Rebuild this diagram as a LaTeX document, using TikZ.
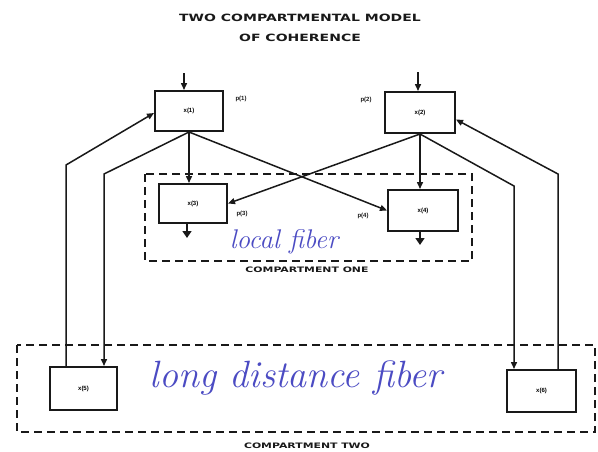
\documentclass[tikz,border=0pt]{standalone}
\usepackage{fontspec}
\setmainfont{Liberation Sans}
\newfontfamily\hand{Latin Modern Roman}
\newfontfamily\heavy{DejaVu Sans}
\usetikzlibrary{arrows.meta,calc}
\definecolor{ink}{RGB}{25,25,25}
\definecolor{pen}{RGB}{75,75,195}
\tikzset{
  box/.style={draw=ink, line width=2pt, inner sep=0pt, font=\fontsize{6}{7}\selectfont\bfseries},
  conn/.style={draw=ink, line width=1.5pt, -{Triangle[length=7pt,width=6pt]}},
  outarr/.style={draw=ink, line width=1.6pt, -{Triangle[length=7pt,width=9pt]}},
  comp/.style={draw=ink, line width=1.6pt, dash pattern=on 8pt off 5pt},
  heading/.style={font=\heavy\fontsize{10}{12}\selectfont\bfseries, text=ink, inner sep=0pt},
  smalllab/.style={font=\heavy\fontsize{7.5}{9}\selectfont\bfseries, text=ink, inner sep=0pt},
  plab/.style={font=\fontsize{6}{7}\selectfont\bfseries, text=ink, inner sep=0pt},
  handtext/.style={text=pen, inner sep=0pt}
}
\begin{document}
\begin{tikzpicture}[x=1pt,y=-1pt]
\useasboundingbox[fill=white] (0,0) rectangle (598,451);

% titles
\node[heading, xscale=1.4] (t1) at (300,18) {TWO COMPARTMENTAL MODEL};
\node[heading, xscale=1.4] (t2) at (300,38) {OF COHERENCE};

% compartments
\draw[comp] (145,174) rectangle (472,261);
\draw[comp] (17,345) rectangle (595,432);
\node[smalllab, xscale=1.45] (cone) at (307,270) {COMPARTMENT ONE};
\node[smalllab, xscale=1.45] (ctwo) at (307,446) {COMPARTMENT TWO};

% handwritten notes
\node[handtext, font=\hand\itshape\fontsize{27}{30}\selectfont] (lf) at (284,242) {local fiber};
\node[handtext, font=\hand\itshape\fontsize{38}{42}\selectfont] (ldf) at (296,378) {long distance fiber};

% boxes
\node[box, minimum width=68pt, minimum height=40pt] (b1) at (189,111) {x(1)};
\node[box, minimum width=70pt, minimum height=41pt] (b2) at (420,112.5) {x(2)};
\node[box, minimum width=68pt, minimum height=39pt] (b3) at (193,203.5) {x(3)};
\node[box, minimum width=70pt, minimum height=41pt] (b4) at (423,210.5) {x(4)};
\node[box, minimum width=67pt, minimum height=43pt] (b5) at (83.5,388.5) {x(5)};
\node[box, minimum width=69pt, minimum height=42pt] (b6) at (541.5,391) {x(6)};

% p labels
\node[plab] (p1) at (241,99) {p(1)};
\node[plab] (p2) at (366,100) {p(2)};
\node[plab] (p3) at (242,214) {p(3)};
\node[plab] (p4) at (363,216) {p(4)};

% helper coordinates
\coordinate (i1) at (184,73);
\coordinate (i2) at (418,72);
\coordinate (k1) at (104,174);
\coordinate (k2) at (66,165);
\coordinate (k3) at (514,186);
\coordinate (k4) at (558,174);
\coordinate (o3) at (187,238);
\coordinate (o4) at (420,245);

% inputs
\draw[conn] (i1) -- (i1 |- b1.north);
\draw[conn] (i2) -- (i2 |- b2.north);

% internal connections
\draw[conn] (b1.south) -- (b1.south |- b3.north);
\draw[conn] (b1.south) -- (b4.west);
\draw[conn] (b2.south) -- (b3.east);
\draw[conn] (b2.south) -- (b2.south |- b4.north);

% long distance connections
\draw[conn] (b1.south) -- (k1) -- (k1 |- b5.north);
\draw[conn] (k2 |- b5.north) -- (k2) -- ([yshift=-2pt]b1.west);
\draw[conn] (b2.south) -- (k3) -- (k3 |- b6.north);
\draw[conn] (k4 |- b6.north) -- (k4) -- ([yshift=-7pt]b2.east);

% outputs
\draw[outarr] (o3 |- b3.south) -- (o3);
\draw[outarr] (o4 |- b4.south) -- (o4);
\end{tikzpicture}
\end{document}
